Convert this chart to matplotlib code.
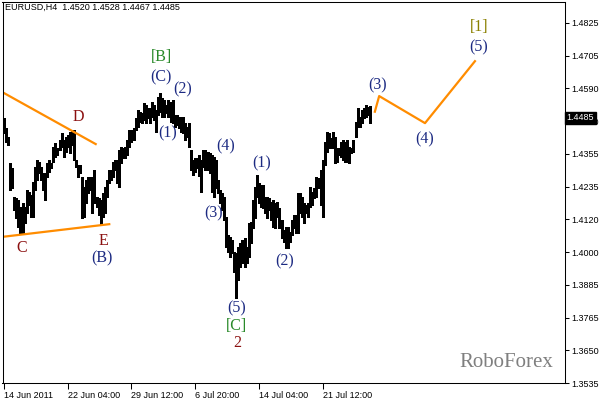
import numpy as np
import matplotlib.pyplot as plt

# H4 bars, high / low (left to right)
highs = [1.4484, 1.4448, 1.4416, 1.4323, 1.4305, 1.4201, 1.4198, 1.4191, 1.4166, 1.4180,
         1.4166, 1.4226, 1.4219, 1.4208, 1.4255, 1.4309, 1.4334, 1.4327, 1.4309, 1.4287,
         1.4287, 1.4323, 1.4334, 1.4323, 1.4380, 1.4394, 1.4377, 1.4405, 1.4430, 1.4405,
         1.4416, 1.4423, 1.4434, 1.4441, 1.4441, 1.4334, 1.4316, 1.4316, 1.4273, 1.4237,
         1.4262, 1.4273, 1.4273, 1.4273, 1.4298, 1.4201, 1.4198, 1.4191, 1.4216, 1.4237,
         1.4262, 1.4298, 1.4298, 1.4327, 1.4334, 1.4334, 1.4370, 1.4380, 1.4377, 1.4380,
         1.4405, 1.4441, 1.4441, 1.4448, 1.4484, 1.4513, 1.4506, 1.4502, 1.4538, 1.4531,
         1.4520, 1.4520, 1.4542, 1.4531, 1.4513, 1.4560, 1.4574, 1.4556, 1.4549, 1.4531,
         1.4549, 1.4542, 1.4549, 1.4495, 1.4495, 1.4488, 1.4488, 1.4488, 1.4466, 1.4452,
         1.4466, 1.4370, 1.4334, 1.4341, 1.4341,
         1.4352, 1.4334, 1.4370, 1.4370, 1.4363, 1.4359, 1.4352, 1.4345, 1.4334, 1.4262,
         1.4226, 1.4216, 1.4201, 1.4130, 1.4066, 1.4058, 1.4047, 1.4005, 1.4001, 1.4023,
         1.4037, 1.4047, 1.4055, 1.4023, 1.4108, 1.4112, 1.4191, 1.4237, 1.4280, 1.4252,
         1.4244, 1.4244, 1.4201, 1.4201, 1.4198, 1.4184, 1.4191, 1.4180, 1.4184, 1.4162,
         1.4119, 1.4083, 1.4094, 1.4094, 1.4076, 1.4119, 1.4137, 1.4137, 1.4216, 1.4216,
         1.4201, 1.4180, 1.4173, 1.4180,
         1.4237, 1.4219, 1.4233, 1.4273, 1.4270, 1.4298, 1.4334, 1.4398, 1.4434, 1.4430,
         1.4412, 1.4434, 1.4416, 1.4377, 1.4377, 1.4398, 1.4405, 1.4398, 1.4405, 1.4380,
         1.4377, 1.4405, 1.4470, 1.4520, 1.4488, 1.4513, 1.4520, 1.4531, 1.4524, 1.4528]
lows = [1.4430, 1.4398, 1.4387, 1.4226, 1.4233, 1.4155, 1.4126, 1.4094, 1.4072, 1.4072,
        1.4108, 1.4144, 1.4173, 1.4130, 1.4130, 1.4226, 1.4262, 1.4287, 1.4262, 1.4226,
        1.4191, 1.4273, 1.4291, 1.4305, 1.4327, 1.4345, 1.4352, 1.4370, 1.4380, 1.4345,
        1.4363, 1.4380, 1.4359, 1.4387, 1.4334, 1.4309, 1.4273, 1.4287, 1.4126, 1.4130,
        1.4180, 1.4215, 1.4226, 1.4144, 1.4180, 1.4166, 1.4137, 1.4101, 1.4130, 1.4144,
        1.4201, 1.4252, 1.4262, 1.4273, 1.4298, 1.4252, 1.4237, 1.4323, 1.4341, 1.4341,
        1.4352, 1.4380, 1.4398, 1.4405, 1.4441, 1.4452, 1.4470, 1.4466, 1.4477, 1.4466,
        1.4484, 1.4466, 1.4488, 1.4477, 1.4434, 1.4495, 1.4506, 1.4488, 1.4488, 1.4502,
        1.4488, 1.4470, 1.4466, 1.4452, 1.4459, 1.4448, 1.4434, 1.4430, 1.4405, 1.4416,
        1.4380, 1.4298, 1.4280, 1.4291, 1.4305,
        1.4277, 1.4219, 1.4309, 1.4298, 1.4298, 1.4287, 1.4219, 1.4201, 1.4233, 1.4215,
        1.4180, 1.4155, 1.4119, 1.4023, 1.4005, 1.3987, 1.4001, 1.3933, 1.3840, 1.3904,
        1.3951, 1.3965, 1.3951, 1.3965, 1.3987, 1.4037, 1.4090, 1.4126, 1.4201, 1.4180,
        1.4166, 1.4162, 1.4144, 1.4126, 1.4155, 1.4119, 1.4094, 1.4090, 1.4130, 1.4090,
        1.4055, 1.4040, 1.4019, 1.4019, 1.4040, 1.4065, 1.4090, 1.4072, 1.4072, 1.4144,
        1.4130, 1.4108, 1.4144, 1.4130,
        1.4166, 1.4173, 1.4198, 1.4201, 1.4233, 1.4173, 1.4130, 1.4316, 1.4363, 1.4377,
        1.4377, 1.4377, 1.4323, 1.4327, 1.4352, 1.4345, 1.4334, 1.4327, 1.4327, 1.4323,
        1.4359, 1.4363, 1.4416, 1.4452, 1.4452, 1.4466, 1.4484, 1.4488, 1.4495, 1.4467]

# date axis labels (bar index) and price axis labels
date_pos = [0, 31, 62, 93, 124, 155]
date_labels = ['14 Jun 2011', '22 Jun 04:00', '29 Jun 12:00', '6 Jul 20:00',
               '14 Jul 04:00', '21 Jul 12:00']
price_labels = ['1.3535', '1.3650', '1.3765', '1.3885', '1.4000', '1.4120',
                '1.4235', '1.4355', '1.4470', '1.4590', '1.4705', '1.4825']
last_price = 1.4485

# orange trend lines: triangle borders and forecast path
upper_x, upper_y = [-0.3, 44.6], [1.4575, 1.4391]
lower_x, lower_y = [-0.3, 51.2], [1.4059, 1.4104]
fc_x = [180.4, 182.5, 204.8, 229.1]
fc_y = [1.4507, 1.4563, 1.4466, 1.4688]

# wave labels: text, bar index, price, colour
navy = '#1c2a82'
green = '#2a8a2a'
maroon = '#8b1010'
olive = '#8a8000'
labels = [
    ('D', 36.0, 1.4488, maroon), ('C', 8.8, 1.4019, maroon),
    ('E', 48.2, 1.4044, maroon), ('(B)', 47.7, 1.3980, navy),
    ('[B]', 76.4, 1.4703, green), ('(C)', 76.4, 1.4631, navy),
    ('(2)', 87.1, 1.4588, navy), ('(1)', 79.8, 1.4431, navy),
    ('(4)', 108.0, 1.4381, navy), ('(3)', 102.1, 1.4141, navy),
    ('(5)', 113.3, 1.3801, navy), ('[C]', 113.3, 1.3740, green),
    ('2', 113.3, 1.3679, maroon), ('(1)', 125.5, 1.4320, navy),
    ('(2)', 136.7, 1.3969, navy), ('(3)', 181.9, 1.4603, navy),
    ('(4)', 204.8, 1.4409, navy), ('(5)', 231.0, 1.4739, navy),
    ('[1]', 231.0, 1.4810, olive),
]

fig = plt.figure(figsize=(6.02, 4.01), dpi=100)
ax = fig.add_axes([2.5 / 602, 18 / 401, 562.5 / 602, 381 / 401])

idx = np.arange(len(highs))
ax.vlines(idx, lows, highs, color='black', lw=0.75, antialiased=False)

ax.plot(upper_x, upper_y, color='#ff8c00', lw=1.6)
ax.plot(lower_x, lower_y, color='#ff8c00', lw=1.6)
ax.plot(fc_x, fc_y, color='#ff8c00', lw=1.6)

for txt, x, y, c in labels:
    ax.text(x, y, txt, color=c, fontsize=11.5, family='Liberation Serif',
            ha='center', va='center')

ax.text(0.895, 0.0525, 'RoboForex', transform=ax.transAxes, fontsize=15,
        family='Liberation Serif', color='#7f7f7f', ha='center', va='center')
ax.text(0.004, 0.997, 'EURUSD,H4  1.4520 1.4528 1.4467 1.4485', transform=ax.transAxes,
        fontsize=6.5, family='Liberation Sans', ha='left', va='top')

ax.set_xlim(-0.73, 272.9)
ax.set_ylim(1.4900, 1.3536)
ax.set_ylim(1.3536, 1.4900)

ax.yaxis.tick_right()
yt = np.linspace(1.3535, 1.4825, len(price_labels))
ax.set_yticks(yt)
ax.set_yticklabels(price_labels)
ax.set_xticks(date_pos)
ax.set_xticklabels(date_labels, ha='left')
ax.tick_params(axis='both', direction='out', length=3, width=0.75, labelsize=6.5,
               pad=1.5)
ax.tick_params(axis='x', length=4, pad=2)
for lab in ax.get_xticklabels() + ax.get_yticklabels():
    lab.set_family('Liberation Sans')
for s in ax.spines.values():
    s.set_linewidth(0.75)

ax.text(1.003, last_price, '1.4485', transform=ax.get_yaxis_transform(),
        fontsize=6.5, family='Liberation Sans', color='white', ha='left', va='center',
        bbox=dict(boxstyle='square,pad=0.15', fc='black', ec='black'), clip_on=False)

fig.savefig('out.png', dpi=100)
